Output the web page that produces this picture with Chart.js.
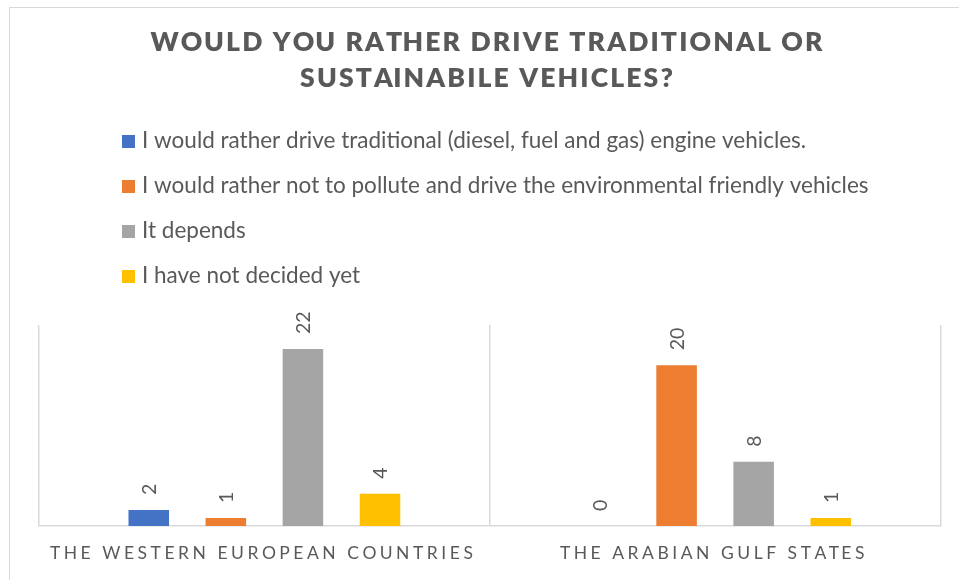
<!DOCTYPE html>
<html>
<head>
<meta charset="utf-8">
<script src="https://cdn.jsdelivr.net/npm/chart.js@4.4.0/dist/chart.umd.min.js"></script>
<style>
html,body{margin:0;padding:0;background:#fff;}
canvas{display:block;}
</style>
</head>
<body>
<canvas id="c" width="959" height="580"></canvas>
<script>
// ---- data ----
const titleLines = ['WOULD YOU RATHER DRIVE TRADITIONAL OR', 'SUSTAINABILE VEHICLES?'];
const categories = ['THE WESTERN EUROPEAN COUNTRIES', 'THE ARABIAN GULF STATES'];
const seriesNames = [
  'I would rather drive traditional (diesel, fuel and gas) engine vehicles.',
  'I would rather not to pollute and drive the environmental friendly vehicles',
  'It depends',
  'I have not decided yet'
];
const traditional = [2, 0];
const environmental = [1, 20];
const depends = [22, 8];
const undecided = [4, 1];
const seriesColors = ['#4472C4', '#ED7D31', '#A5A5A5', '#FFC000'];
const yMax = 25;

// ---- styling helpers ----
const TEXT = '#595959';
const FONT = "Lato, 'Liberation Sans', sans-serif";

function drawSpaced(ctx, text, x, y, ls) {
  for (let i = 0; i < text.length; i++) {
    const off = ctx.measureText(text.slice(0, i)).width + i * ls;
    ctx.fillText(text[i], x + off, y);
  }
}
function spacedWidth(ctx, text, ls) {
  return ctx.measureText(text).width + (text.length - 1) * ls;
}
function spacingFor(ctx, text, target) {
  const w = ctx.measureText(text).width;
  return (target - w) / (text.length - 1);
}

const decor = {
  id: 'decor',
  beforeDraw(chart) {
    const ctx = chart.ctx;
    ctx.save();
    // outer frame
    ctx.strokeStyle = '#d9d9d9';
    ctx.lineWidth = 1;
    ctx.strokeRect(9.5, 7.5, 1000, 1000);

    // title
    ctx.fillStyle = TEXT;
    ctx.textAlign = 'left';
    ctx.textBaseline = 'alphabetic';
    let tSize = 26.5;
    ctx.font = '800 ' + tSize + 'px ' + FONT;
    let ls = spacingFor(ctx, titleLines[0], 672);
    if (ls < 1) {
      tSize = tSize * 672 / (ctx.measureText(titleLines[0]).width + 36);
      ctx.font = '800 ' + tSize.toFixed(2) + 'px ' + FONT;
      ls = spacingFor(ctx, titleLines[0], 672);
    }
    const titleBase = [50.5, 86.5];
    const titleCenter = 486.5;
    titleLines.forEach((t, i) => {
      const w = spacedWidth(ctx, t, ls);
      drawSpaced(ctx, t, titleCenter - w / 2, titleBase[i], ls);
    });

    // legend (vertical list)
    ctx.font = '21px ' + FONT;
    const w0 = ctx.measureText(seriesNames[0]).width;
    const size = 21 * 664 / w0;
    ctx.font = size.toFixed(2) + 'px ' + FONT;
    seriesNames.forEach((name, i) => {
      const cy = 141.5 + 45 * i;
      ctx.fillStyle = seriesColors[i];
      ctx.fillRect(122, cy - 6.5, 13, 13);
      ctx.fillStyle = TEXT;
      ctx.fillText(name, 142, cy + 6.5);
    });
    ctx.restore();
  },
  afterDatasetsDraw(chart) {
    const ctx = chart.ctx;
    ctx.save();
    // value labels, rotated
    ctx.fillStyle = TEXT;
    ctx.font = '19.5px ' + FONT;
    ctx.textAlign = 'left';
    ctx.textBaseline = 'alphabetic';
    chart.data.datasets.forEach((ds, di) => {
      const meta = chart.getDatasetMeta(di);
      meta.data.forEach((el, i) => {
        ctx.save();
        ctx.translate(el.x, el.y - 15);
        ctx.rotate(-Math.PI / 2);
        ctx.fillText(String(ds.data[i]), 0, 7);
        ctx.restore();
      });
    });

    // category labels
    const xs = chart.scales.x;
    ctx.font = '17.5px ' + FONT;
    const ls = spacingFor(ctx, categories[0], 423);
    categories.forEach((c, i) => {
      const w = spacedWidth(ctx, c, ls);
      const cx = xs.getPixelForValue(i) - 3;
      drawSpaced(ctx, c, cx - w / 2, 559, ls);
    });
    ctx.restore();
  }
};

const datasetValues = [traditional, environmental, depends, undecided];

new Chart(document.getElementById('c'), {
  type: 'bar',
  data: {
    labels: categories,
    datasets: datasetValues.map((vals, i) => ({
      label: seriesNames[i],
      data: vals,
      backgroundColor: seriesColors[i],
      borderWidth: 0,
      categoryPercentage: 0.684,
      barPercentage: 0.526
    }))
  },
  options: {
    responsive: false,
    animation: false,
    layout: { padding: { left: 39, right: 18.5, top: 325, bottom: 54 } },
    plugins: {
      legend: { display: false },
      title: { display: false },
      tooltip: { enabled: false }
    },
    scales: {
      x: {
        grid: { display: true, offset: true, color: '#d9d9d9', lineWidth: 1.5, drawTicks: false },
        border: { display: true, color: '#d9d9d9', width: 1.5 },
        ticks: { display: false }
      },
      y: {
        display: false,
        min: 0,
        max: yMax
      }
    }
  },
  plugins: [decor]
});
</script>
</body>
</html>
